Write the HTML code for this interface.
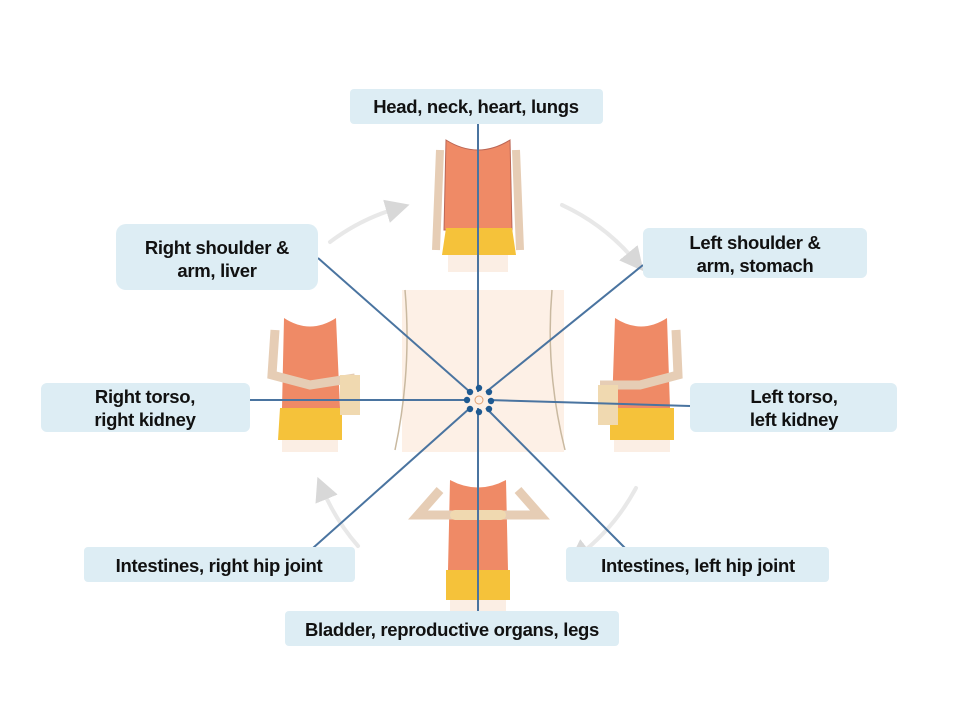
<!DOCTYPE html>
<html><head><style>
body{margin:0;background:#fff;width:960px;height:720px;overflow:hidden;font-family:"Liberation Sans",sans-serif}
</style></head><body>
<svg width="960" height="720" viewBox="0 0 960 720" xmlns="http://www.w3.org/2000/svg">
<defs>
<marker id="ah" markerWidth="6" markerHeight="6" refX="3" refY="3" orient="auto"><path d="M0,0 L6,3 L0,6z" fill="#d8d8d8"/></marker>
</defs>
<g fill="none" stroke="#e8e8e8" stroke-width="4" stroke-linecap="round">
<path d="M330,242 A210,210 0 0 1 398,208" marker-end="url(#ah)"/>
<path d="M562,205 A210,210 0 0 1 636,262" marker-end="url(#ah)"/>
<path d="M636,488 A210,210 0 0 1 578,556" marker-end="url(#ah)"/>
<path d="M358,546 A210,210 0 0 1 322,488" marker-end="url(#ah)"/>
</g>
<rect x="402" y="290" width="162" height="162" fill="#fdf0e6"/>
<path d="M405,290 Q412,370 395,450" fill="none" stroke="#c9b9a0" stroke-width="1.5"/>
<path d="M552,290 Q545,370 565,450" fill="none" stroke="#c9b9a0" stroke-width="1.5"/>
<g>
<path d="M446,140 Q478,160 510,140 L512,230 L444,230z" fill="#ef8a66" stroke="#b65" stroke-width="1"/>
<path d="M446,228 L512,228 L516,255 L442,255z" fill="#f5c23a"/>
<rect x="448" y="255" width="60" height="17" fill="#fbeee4"/>
<path d="M440,150 L436,250 M516,150 L520,250" stroke="#e6cdb5" stroke-width="8"/>
</g>
<g>
<path d="M284,318 Q310,335 336,318 L340,408 L282,408z" fill="#ef8a66"/>
<path d="M280,408 L342,408 L342,440 L278,440z" fill="#f5c23a"/>
<rect x="282" y="440" width="56" height="12" fill="#fbeee4"/>
<path d="M275,330 L272,375 L310,385 L355,378" stroke="#e6cdb5" stroke-width="9" fill="none"/>
<rect x="340" y="375" width="20" height="40" fill="#f0d9b0"/>
</g>
<g>
<path d="M615,318 Q641,335 667,318 L670,408 L612,408z" fill="#ef8a66"/>
<path d="M610,408 L674,408 L674,440 L610,440z" fill="#f5c23a"/>
<rect x="614" y="440" width="56" height="12" fill="#fbeee4"/>
<path d="M676,330 L678,375 L640,385 L600,385" stroke="#e6cdb5" stroke-width="9" fill="none"/>
<rect x="598" y="385" width="20" height="40" fill="#f0d9b0"/>
</g>
<g>
<path d="M450,480 Q478,495 506,480 L508,570 L448,570z" fill="#ef8a66"/>
<path d="M446,570 L510,570 L510,600 L446,600z" fill="#f5c23a"/>
<rect x="450" y="600" width="56" height="12" fill="#fbeee4"/>
<path d="M440,490 L418,515 L455,515 M518,490 L540,515 L500,515" stroke="#e6cdb5" stroke-width="9" fill="none"/>
<rect x="450" y="510" width="56" height="10" rx="5" fill="#f0d9b0"/>
</g>
<g stroke="#4a74a0" stroke-width="2">
<line x1="478" y1="392" x2="478" y2="112"/>
<line x1="478" y1="408" x2="478" y2="615"/>
<line x1="470" y1="400" x2="250" y2="400"/>
<line x1="488" y1="400" x2="690" y2="406"/>
<line x1="470" y1="392" x2="318" y2="258"/>
<line x1="486" y1="392" x2="643" y2="265"/>
<line x1="470" y1="408" x2="313" y2="548"/>
<line x1="486" y1="408" x2="625" y2="548"/>
</g>
<g fill="#1f5a91">
<circle cx="479" cy="388" r="3.2"/><circle cx="479" cy="412" r="3.2"/>
<circle cx="467" cy="400" r="3.2"/><circle cx="491" cy="401" r="3.2"/>
<circle cx="470" cy="392" r="3.2"/><circle cx="489" cy="392" r="3.2"/>
<circle cx="470" cy="409" r="3.2"/><circle cx="489" cy="409" r="3.2"/>
</g>
<circle cx="479" cy="400" r="4" fill="none" stroke="#e0a070" stroke-width="1"/>
<g fill="#ddedf4">
<rect x="350" y="89" width="253" height="35" rx="4"/>
<rect x="116" y="224" width="202" height="66" rx="10"/>
<rect x="643" y="228" width="224" height="50" rx="6"/>
<rect x="41" y="383" width="209" height="49" rx="6"/>
<rect x="690" y="383" width="207" height="49" rx="6"/>
<rect x="84" y="547" width="271" height="35" rx="4"/>
<rect x="566" y="547" width="263" height="35" rx="4"/>
<rect x="285" y="611" width="334" height="35" rx="4"/>
</g>
<g font-family="Liberation Sans, sans-serif" font-weight="bold" font-size="18.5" fill="#111" text-anchor="middle" letter-spacing="-0.3">
<text x="476" y="113">Head, neck, heart, lungs</text>
<text x="217" y="254">Right shoulder &amp;</text><text x="217" y="277">arm, liver</text>
<text x="755" y="249">Left shoulder &amp;</text><text x="755" y="272">arm, stomach</text>
<text x="145" y="403">Right  torso,</text><text x="145" y="426">right kidney</text>
<text x="794" y="403">Left torso,</text><text x="794" y="426">left kidney</text>
<text x="219" y="572">Intestines, right hip joint</text>
<text x="698" y="572">Intestines,  left hip joint</text>
<text x="452" y="636">Bladder, reproductive organs, legs</text>
</g>
</svg>
</body></html>
